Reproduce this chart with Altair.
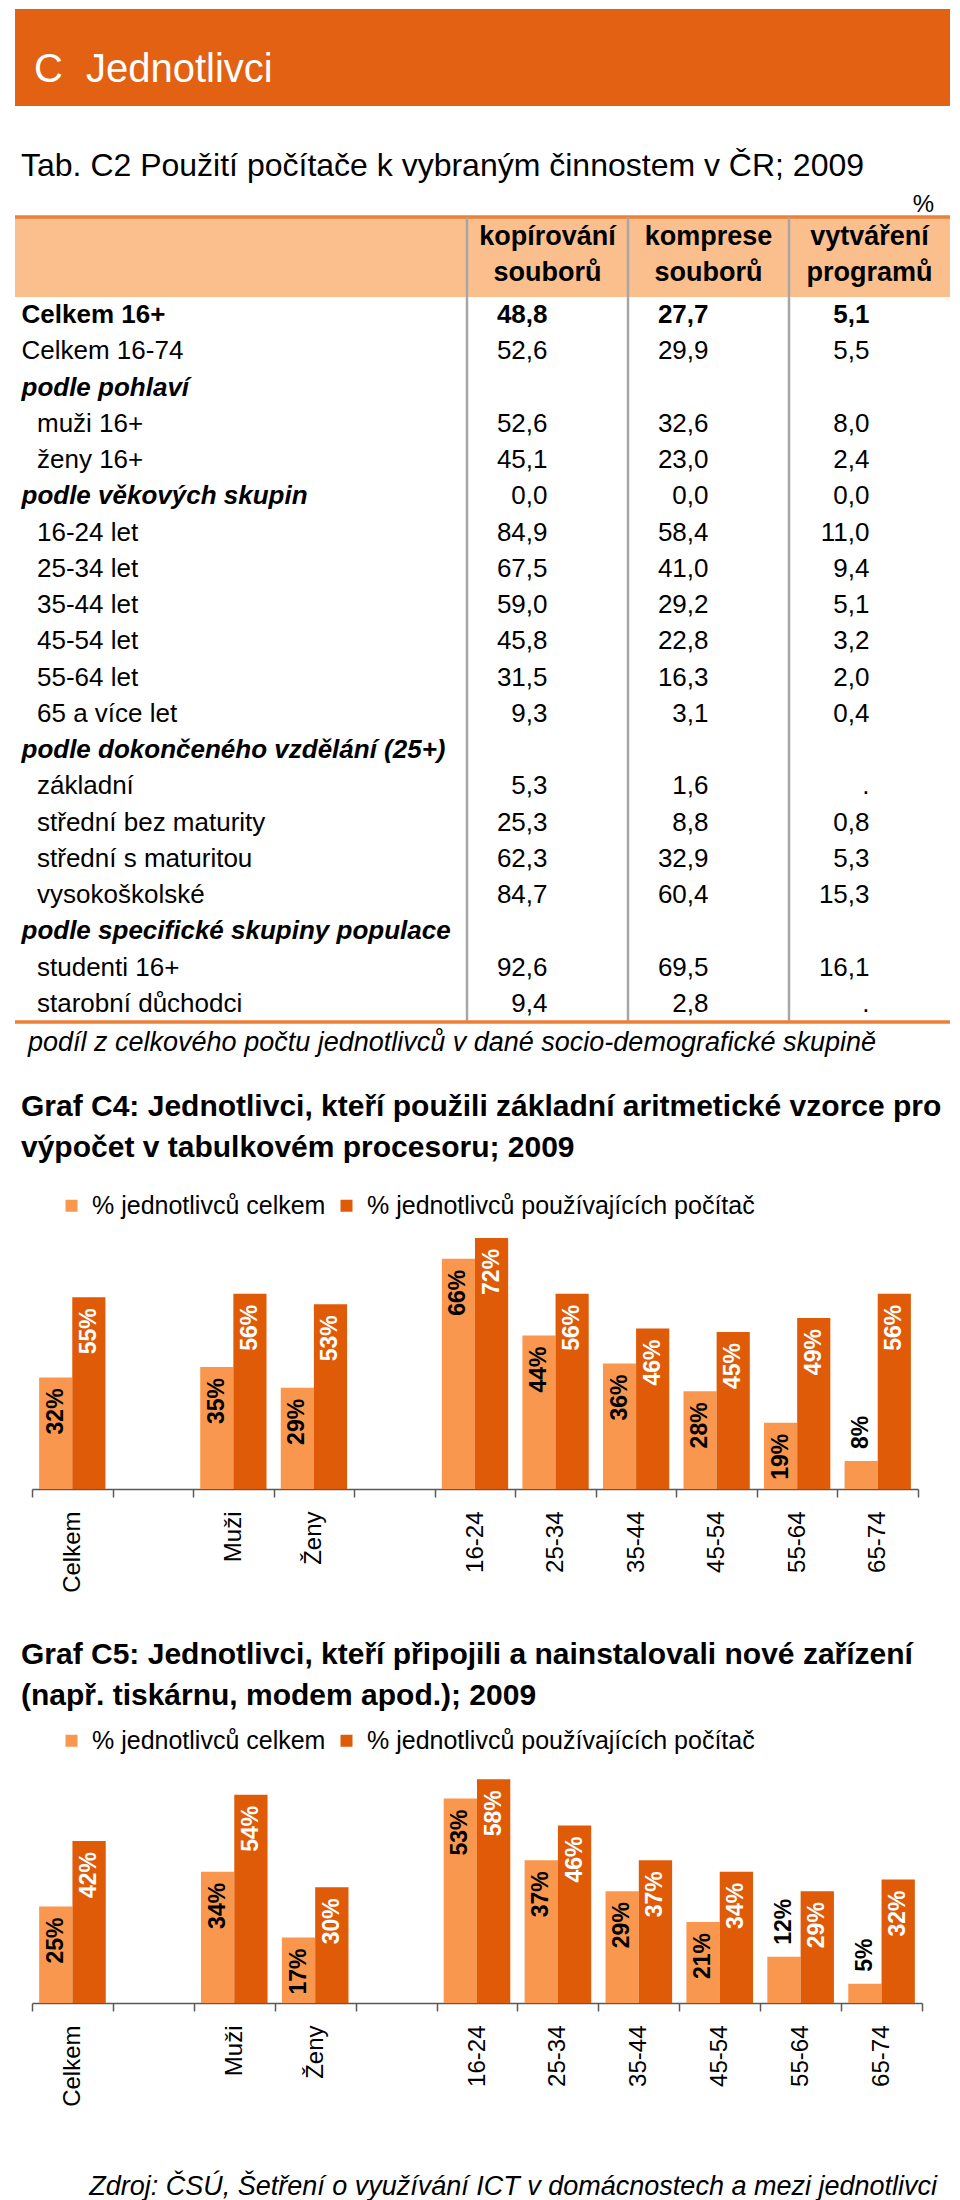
import altair as alt
import pandas as pd

FONT = "Liberation Sans"
BANNER = "#E26112"
LIGHT = "#F9974E"
DARK = "#DF5B07"
HEADER_FILL = "#FBBF8E"
LINE_ORANGE = "#EB8036"
SEP_GRAY = "#A6A6A6"
AXIS_GRAY = "#595959"

# ---------------- texts ----------------
section_letter = "C"
section_name = "Jednotlivci"
table_title = "Tab. C2 Použití počítače k vybraným činnostem v ČR; 2009"
unit_text = "%"
footnote = "podíl z celkového počtu jednotlivců v dané socio-demografické skupině"
c4_title = ("Graf C4: Jednotlivci, kteří použili základní aritmetické vzorce pro\n"
            "výpočet v tabulkovém procesoru; 2009")
c5_title = ("Graf C5: Jednotlivci, kteří připojili a nainstalovali nové zařízení\n"
            "(např. tiskárnu, modem apod.); 2009")
source_text = "Zdroj: ČSÚ, Šetření o využívání ICT v domácnostech a mezi jednotlivci"

# ---------------- table data ----------------
col_ids = ["kop", "kom", "vyt"]
col_headers = ["kopírování\nsouborů", "komprese\nsouborů", "vytváření\nprogramů"]
row_labels = ["Celkem 16+", "Celkem 16-74", "podle pohlaví", "muži 16+", "ženy 16+",
              "podle věkových skupin", "16-24 let", "25-34 let", "35-44 let", "45-54 let",
              "55-64 let", "65 a více let", "podle dokončeného vzdělání (25+)", "základní",
              "střední bez maturity", "střední s maturitou", "vysokoškolské",
              "podle specifické skupiny populace", "studenti 16+", "starobní důchodci"]
row_kind = ["total", "plain", "section", "sub", "sub", "section", "sub", "sub", "sub", "sub",
            "sub", "sub", "section", "sub", "sub", "sub", "sub", "section", "sub", "sub"]
kopirovani = [48.8, 52.6, None, 52.6, 45.1, 0.0, 84.9, 67.5, 59.0, 45.8,
              31.5, 9.3, None, 5.3, 25.3, 62.3, 84.7, None, 92.6, 9.4]
komprese = [27.7, 29.9, None, 32.6, 23.0, 0.0, 58.4, 41.0, 29.2, 22.8,
            16.3, 3.1, None, 1.6, 8.8, 32.9, 60.4, None, 69.5, 2.8]
vytvareni = [5.1, 5.5, None, 8.0, 2.4, 0.0, 11.0, 9.4, 5.1, 3.2,
             2.0, 0.4, None, ".", 0.8, 5.3, 15.3, None, 16.1, "."]

# ---------------- chart data ----------------
series_names = ["% jednotlivců celkem", "% jednotlivců používajících počítač"]
x_domain = ["Celkem", "_1", "Muži", "Ženy", "_2", "16-24", "25-34", "35-44", "45-54", "55-64", "65-74"]
bar_cats = ["Celkem", "Muži", "Ženy", "16-24", "25-34", "35-44", "45-54", "55-64", "65-74"]
c4_total = [32, 35, 29, 66, 44, 36, 28, 19, 8]
c4_users = [55, 56, 53, 72, 56, 46, 45, 49, 56]
c5_total = [25, 34, 17, 53, 37, 29, 21, 12, 5]
c5_users = [42, 54, 30, 58, 46, 37, 34, 29, 32]

W = 944
H = 2192


def one():
    return pd.DataFrame({"a": [0]})


def txt(text, x, y, **kw):
    return alt.Chart(pd.DataFrame({"t": [text]})).mark_text(**kw).encode(
        x=alt.value(x), y=alt.value(y), text="t:N")


# ---------------- banner + table ----------------
rows_df = pd.DataFrame({
    "row": list(range(len(row_labels))),
    "label": row_labels,
    "kind": row_kind,
    "indent": [0 if k in ("total", "plain", "section") else 1 for k in row_kind],
})
vals = []
for cid, series in zip(col_ids, [kopirovani, komprese, vytvareni]):
    for i, v in enumerate(series):
        if v is None:
            continue
        t = v if isinstance(v, str) else f"{v:.1f}".replace(".", ",")
        vals.append({"row": i, "col": cid, "txt": t, "kind": row_kind[i]})
vals_df = pd.DataFrame(vals)
head_df = pd.DataFrame({"col": col_ids, "head": col_headers})

Y_ROWS = alt.Y("row:O", scale=alt.Scale(domain=list(range(len(row_labels))), range=[289, 1014],
                                         paddingInner=0, paddingOuter=0), axis=None)


def x_cols(bp):
    return alt.X("col:N", scale=alt.Scale(domain=col_ids, range=[459, 942], paddingInner=0, paddingOuter=0),
                 axis=None, bandPosition=bp)


X_IND = alt.X("indent:Q", scale=alt.Scale(domain=[0, 1], range=[13.5, 29]), axis=None)

banner = alt.Chart(one()).mark_rect(color=BANNER).encode(
    x=alt.value(7), x2=alt.value(942), y=alt.value(1), y2=alt.value(98))
banner_c = txt(section_letter, 26, 62, fontSize=40, color="white", align="left")
banner_t = txt(section_name, 78, 62, fontSize=40, color="white", align="left")
title_t = txt(table_title, 13, 158, fontSize=32, color="black", align="left")
unit_t = txt(unit_text, 926, 197, fontSize=24, color="black", align="right")
head_rect = alt.Chart(one()).mark_rect(color=HEADER_FILL).encode(
    x=alt.value(7), x2=alt.value(942), y=alt.value(209), y2=alt.value(289))
head_line = alt.Chart(one()).mark_rule(color=LINE_ORANGE, strokeWidth=3.5).encode(
    x=alt.value(7), x2=alt.value(942), y=alt.value(209))
seps = alt.Chart(head_df).mark_rule(color=SEP_GRAY, strokeWidth=2.5).encode(
    x=x_cols(0), y=alt.value(209), y2=alt.value(1014))
heads = alt.Chart(head_df).mark_text(fontSize=27, fontWeight="bold", lineBreak="\n", lineHeight=36,
                                     align="center", baseline="alphabetic", color="black").encode(
    x=x_cols(0.5), y=alt.value(237), text="head:N")
lab_total = alt.Chart(rows_df).transform_filter("datum.kind == 'total'").mark_text(
    fontSize=26, fontWeight="bold", align="left", baseline="middle", color="black").encode(
    x=X_IND, y=Y_ROWS, text="label:N")
lab_section = alt.Chart(rows_df).transform_filter("datum.kind == 'section'").mark_text(
    fontSize=26, fontWeight="bold", fontStyle="italic", align="left", baseline="middle", color="black").encode(
    x=X_IND, y=Y_ROWS, text="label:N")
lab_plain = alt.Chart(rows_df).transform_filter("datum.kind == 'plain' || datum.kind == 'sub'").mark_text(
    fontSize=26, align="left", baseline="middle", color="black").encode(
    x=X_IND, y=Y_ROWS, text="label:N")
val_bold = alt.Chart(vals_df).transform_filter("datum.kind == 'total'").mark_text(
    fontSize=26, fontWeight="bold", align="right", baseline="middle", color="black").encode(
    x=x_cols(0.872), y=Y_ROWS, text="txt:N")
val_plain = alt.Chart(vals_df).transform_filter("datum.kind != 'total' && datum.txt != '.'").mark_text(
    fontSize=26, align="right", baseline="middle", color="black").encode(
    x=x_cols(0.872), y=Y_ROWS, text="txt:N")
val_dot = alt.Chart(vals_df).transform_filter("datum.txt == '.'").mark_text(
    fontSize=26, align="right", baseline="middle", color="black").encode(
    x=x_cols(0.985), y=Y_ROWS, text="txt:N")
bottom_line = alt.Chart(one()).mark_rule(color=LINE_ORANGE, strokeWidth=3.5).encode(
    x=alt.value(7), x2=alt.value(942), y=alt.value(1014))
foot_t = txt(footnote, 20, 1035, fontSize=27, fontStyle="italic", color="black", align="left")
c4_t = txt(c4_title, 13, 1099, fontSize=30, fontWeight="bold", color="black", align="left",
           lineBreak="\n", lineHeight=41)
c5_t = txt(c5_title, 13, 1647, fontSize=30, fontWeight="bold", color="black", align="left",
           lineBreak="\n", lineHeight=41)
src_t = txt(source_text, 929, 2179, fontSize=27, fontStyle="italic", color="black", align="right")


# ---------------- bar charts ----------------
def bar_chart(total, users, y_range, ymax, xrange, legend_y):
    df = pd.DataFrame({
        "cat": bar_cats + bar_cats,
        "series": [series_names[0]] * len(total) + [series_names[1]] * len(users),
        "value": total + users,
    })
    x = alt.X("cat:N", sort=x_domain,
              scale=alt.Scale(domain=x_domain, range=xrange, paddingInner=0, paddingOuter=0),
              axis=alt.Axis(title=None, orient="bottom", offset=y_range[0] - H,
                            labelAngle=270, labelFontSize=24, labelColor="black",
                            labelPadding=14, tickSize=8, tickBand="extent", tickColor=AXIS_GRAY,
                            tickWidth=1.5, domainColor=AXIS_GRAY, domainWidth=1.5, grid=False,
                            labelExpr="indexof(datum.label, '_') == 0 ? '' : datum.label"))
    xo = alt.XOffset("series:N", sort=series_names,
                     scale=alt.Scale(domain=series_names, paddingInner=0, paddingOuter=0.215))
    y = alt.Y("value:Q", scale=alt.Scale(domain=[0, ymax], range=y_range, nice=False, zero=True), axis=None)
    base = alt.Chart(df).encode(x=x, xOffset=xo, y=y)
    bars = base.mark_bar().encode(
        color=alt.Color("series:N", sort=series_names,
                        scale=alt.Scale(domain=series_names, range=[LIGHT, DARK]),
                        legend=alt.Legend(title=None, orient="none", legendX=51, legendY=legend_y,
                                          direction="horizontal", symbolType="square", symbolSize=144,
                                          symbolStrokeWidth=0, labelFontSize=25, labelColor="black",
                                          labelOffset=8, columnPadding=8, labelLimit=0)))
    inside = base.transform_filter("datum.value >= 15").transform_calculate(
        lab="datum.value + '%'").mark_text(
        angle=270, align="right", baseline="middle", dx=-11, fontWeight="bold", fontSize=23).encode(
        text="lab:N",
        color=alt.condition(alt.datum.series == series_names[0], alt.value("black"), alt.value("white")))
    outside = base.transform_filter("datum.value < 15").transform_calculate(
        lab="datum.value + '%'").mark_text(
        angle=270, align="left", baseline="middle", dx=12, fontWeight="bold", fontSize=23,
        color="black").encode(text="lab:N")
    return alt.layer(bars, inside, outside)


c4_chart = bar_chart(c4_total, c4_users, [1481, 1202], 80, [24, 910], 1185)
c5_chart = bar_chart(c5_total, c5_users, [1995, 1725], 70, [24, 914], 1720)

chart = alt.layer(
    banner, banner_c, banner_t, title_t, unit_t, head_rect, head_line, seps, heads,
    lab_total, lab_section, lab_plain, val_bold, val_plain, val_dot, bottom_line, foot_t, c4_t,
    c4_chart, c5_t, c5_chart, src_t
).resolve_scale(
    x="independent", y="independent", xOffset="independent", color="independent"
).resolve_axis(x="independent", y="independent").resolve_legend(color="independent").properties(
    width=W, height=H,
    autosize=alt.AutoSizeParams(type="none"),
    padding=0,
    background="white"
).configure_view(stroke=None).configure_text(font=FONT).configure_axis(labelFont=FONT).configure_legend(
    labelFont=FONT)

chart.save("out.html", embed_options={"renderer": "svg", "actions": False})
